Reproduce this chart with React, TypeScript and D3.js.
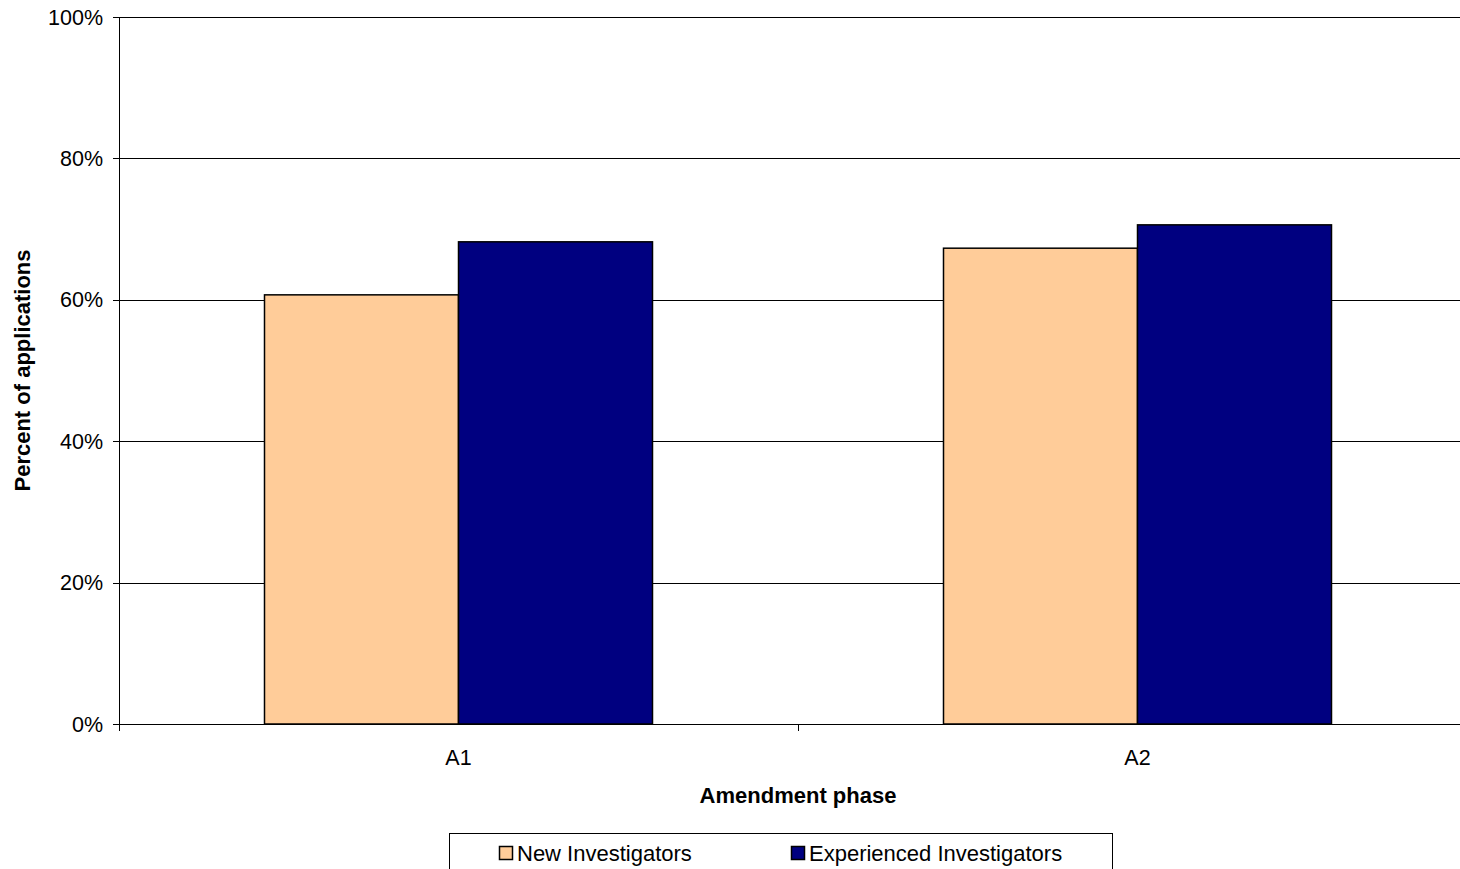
import React from "react";
import * as d3 from "d3";

const categories = ["A1", "A2"];
const seriesNames = ["New Investigators", "Experienced Investigators"];
const newInvestigators = [60.7, 67.3];
const experiencedInvestigators = [68.2, 70.6];
const yTicks = [0, 20, 40, 60, 80, 100];
const colors = ["#FFCC99", "#000080"];

export default function App() {
  const W = 1460, H = 869;
  const left = 119, right = 1477, top = 17, bottom = 724;
  const x = d3.scaleBand<string>().domain(categories).range([left, right]).paddingInner(0).paddingOuter(0);
  const y = d3.scaleLinear().domain([0, 100]).range([bottom, top]);
  const series = [newInvestigators, experiencedInvestigators];
  const bw = x.bandwidth();
  const barW = bw / 3.5;
  const font = "'Liberation Sans', Arial, sans-serif";
  const boundaries = [left, ...categories.map((c) => (x(c) as number) + bw)];
  return (
    <svg width={W} height={H} style={{ position: "absolute", left: 0, top: 0, background: "#fff" }} fontFamily={font}>
      {yTicks.map((t) => (
        <g key={t}>
          <line x1={left - 6} x2={right} y1={Math.round(y(t)) + 0.5} y2={Math.round(y(t)) + 0.5} stroke="#000" strokeWidth={1} />
          <text x={103} y={y(t)} dy="0.35em" textAnchor="end" fontSize={21.5}>{t}%</text>
        </g>
      ))}
      {categories.map((c, i) => {
        const bx = (x(c) as number) + (bw - 2 * barW) / 2;
        return (
          <g key={c}>
            {series.map((s, j) => (
              <rect key={j} x={bx + j * barW} y={y(s[i])} width={barW} height={bottom - y(s[i])} fill={colors[j]} stroke="#000" strokeWidth={1.5} />
            ))}
            <text x={(x(c) as number) + bw / 2} y={757} dy="0.35em" textAnchor="middle" fontSize={21.5}>{c}</text>
          </g>
        );
      })}
      <line x1={left + 0.5} x2={left + 0.5} y1={top} y2={bottom + 7} stroke="#000" strokeWidth={1} />
      <line x1={left} x2={right} y1={bottom + 0.5} y2={bottom + 0.5} stroke="#000" strokeWidth={1} />
      {boundaries.map((b, i) => (
        <line key={i} x1={Math.round(b) + 0.5} x2={Math.round(b) + 0.5} y1={bottom} y2={bottom + 7} stroke="#000" strokeWidth={1} />
      ))}
      <text x={(left + right) / 2} y={795} dy="0.35em" textAnchor="middle" fontSize={22} fontWeight="bold">Amendment phase</text>
      <text transform={`translate(22,${(top + bottom) / 2}) rotate(-90)`} dy="0.35em" textAnchor="middle" fontSize={22} fontWeight="bold">Percent of applications</text>
      <rect x={449.5} y={833.5} width={663} height={50} fill="#fff" stroke="#000" strokeWidth={1} />
      {seriesNames.map((n, j) => {
        const lx = j === 0 ? 499 : 791;
        return (
          <g key={n}>
            <rect x={lx + 0.5} y={846.5} width={13} height={13} fill={colors[j]} stroke="#000" strokeWidth={1.5} />
            <text x={lx + 18} y={853} dy="0.35em" fontSize={22}>{n}</text>
          </g>
        );
      })}
    </svg>
  );
}
